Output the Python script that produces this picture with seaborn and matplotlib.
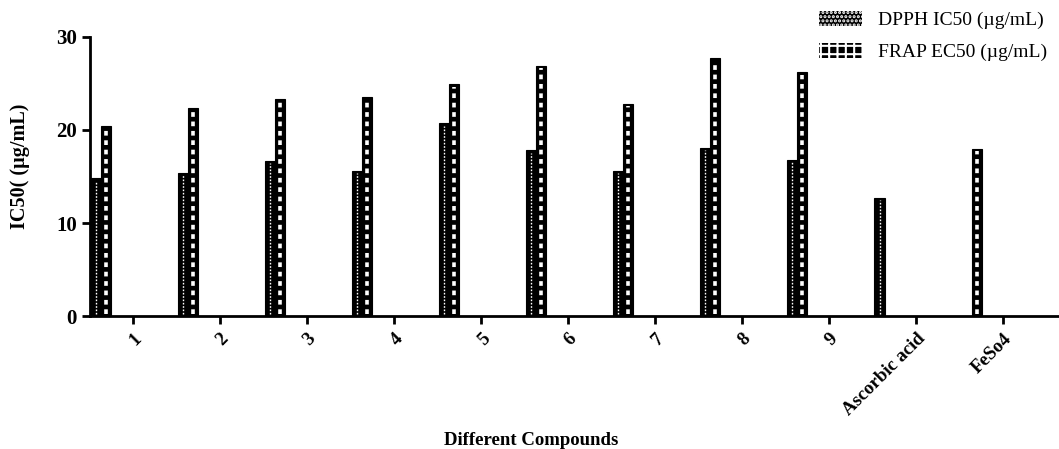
import numpy as np
import pandas as pd
import matplotlib
matplotlib.use("Agg")
import matplotlib.pyplot as plt
from matplotlib.patches import Patch
import seaborn as sns

compounds = ["1", "2", "3", "4", "5", "6", "7", "8", "9", "Ascorbic acid", "FeSo4"]
dpph_ic50 = [14.8, 15.4, 16.7, 15.6, 20.7, 17.8, 15.6, 18.1, 16.8, 12.7, np.nan]
frap_ec50 = [20.4, 22.4, 23.3, 23.5, 24.9, 26.9, 22.8, 27.7, 26.2, np.nan, 18.0]
series = ["DPPH IC50 (µg/mL)", "FRAP EC50 (µg/mL)"]

sns.set_style("ticks", {"text.color": "black", "axes.labelcolor": "black",
                        "xtick.color": "black", "ytick.color": "black",
                        "axes.edgecolor": "black"})
plt.rcParams["font.family"] = ["Liberation Serif", "DejaVu Serif"]
plt.rcParams["hatch.linewidth"] = 1.5

# bars sit to the left of each category tick, as in the original figure
pos = np.arange(len(compounds))
df = pd.DataFrame({
    "pos": np.concatenate([pos, pos]) - 0.365,
    "value": dpph_ic50 + frap_ec50,
    "series": [series[0]] * len(compounds) + [series[1]] * len(compounds),
})

fig = plt.figure(figsize=(10.59, 4.49), dpi=100)
ax = fig.add_axes([0.085, 0.296, 0.915, 0.622])

sns.barplot(data=df, x="pos", y="value", hue="series", hue_order=series,
            native_scale=True, width=0.23, palette=["black", "black"],
            edgecolor="black", linewidth=0.8, legend=False, ax=ax)

# white inner patterns: fine dots for DPPH, coarse dashes for FRAP
styles = [dict(lw=1.0, dashes=(1.2, 1.2)), dict(lw=2.6, dashes=(1.3, 1.3))]
for cont, st in zip(ax.containers, styles):
    for bar in cont:
        h = bar.get_height()
        if not np.isfinite(h) or h <= 0:
            continue
        xc = bar.get_x() + bar.get_width() / 2
        ax.plot([xc, xc], [0.25, h - 0.25], color="white", lw=st["lw"],
                dashes=st["dashes"], solid_capstyle="butt")

ax.set_xlim(-0.494, 10.64)
ax.set_ylim(0, 30)
ax.set_yticks([0, 10, 20, 30])
ax.set_xticks(pos)
ax.set_xticklabels(compounds, rotation=45, ha="right", rotation_mode="anchor",
                   fontsize=13.5, fontweight="bold")
for lab in ax.get_yticklabels():
    lab.set_fontsize(15)
    lab.set_fontweight("bold")
ax.tick_params(axis="both", width=2, length=6, color="black")
ax.tick_params(axis="x", pad=4)
for s in ["left", "bottom"]:
    ax.spines[s].set_linewidth(2)
sns.despine(ax=ax)

ax.set_ylabel("IC50( (µg/mL)", fontsize=14.5, fontweight="bold")
ax.yaxis.set_label_coords(-0.062, 0.535)
ax.set_xlabel("Different Compounds", fontsize=13.5, fontweight="bold")
ax.xaxis.set_label_coords(0.455, -0.415)

plt.rcParams["hatch.color"] = "white"
handles = [
    Patch(facecolor="black", edgecolor="white", linewidth=0, hatch="...."),
    Patch(facecolor="black", edgecolor="white", linewidth=0, hatch="++"),
]
fig.legend(handles, series, loc="upper right", bbox_to_anchor=(1.005, 1.015),
           frameon=False, prop={"size": 14}, handlelength=2.2,
           handleheight=0.8, labelspacing=0.7)

fig.savefig("out.png", dpi=100)
